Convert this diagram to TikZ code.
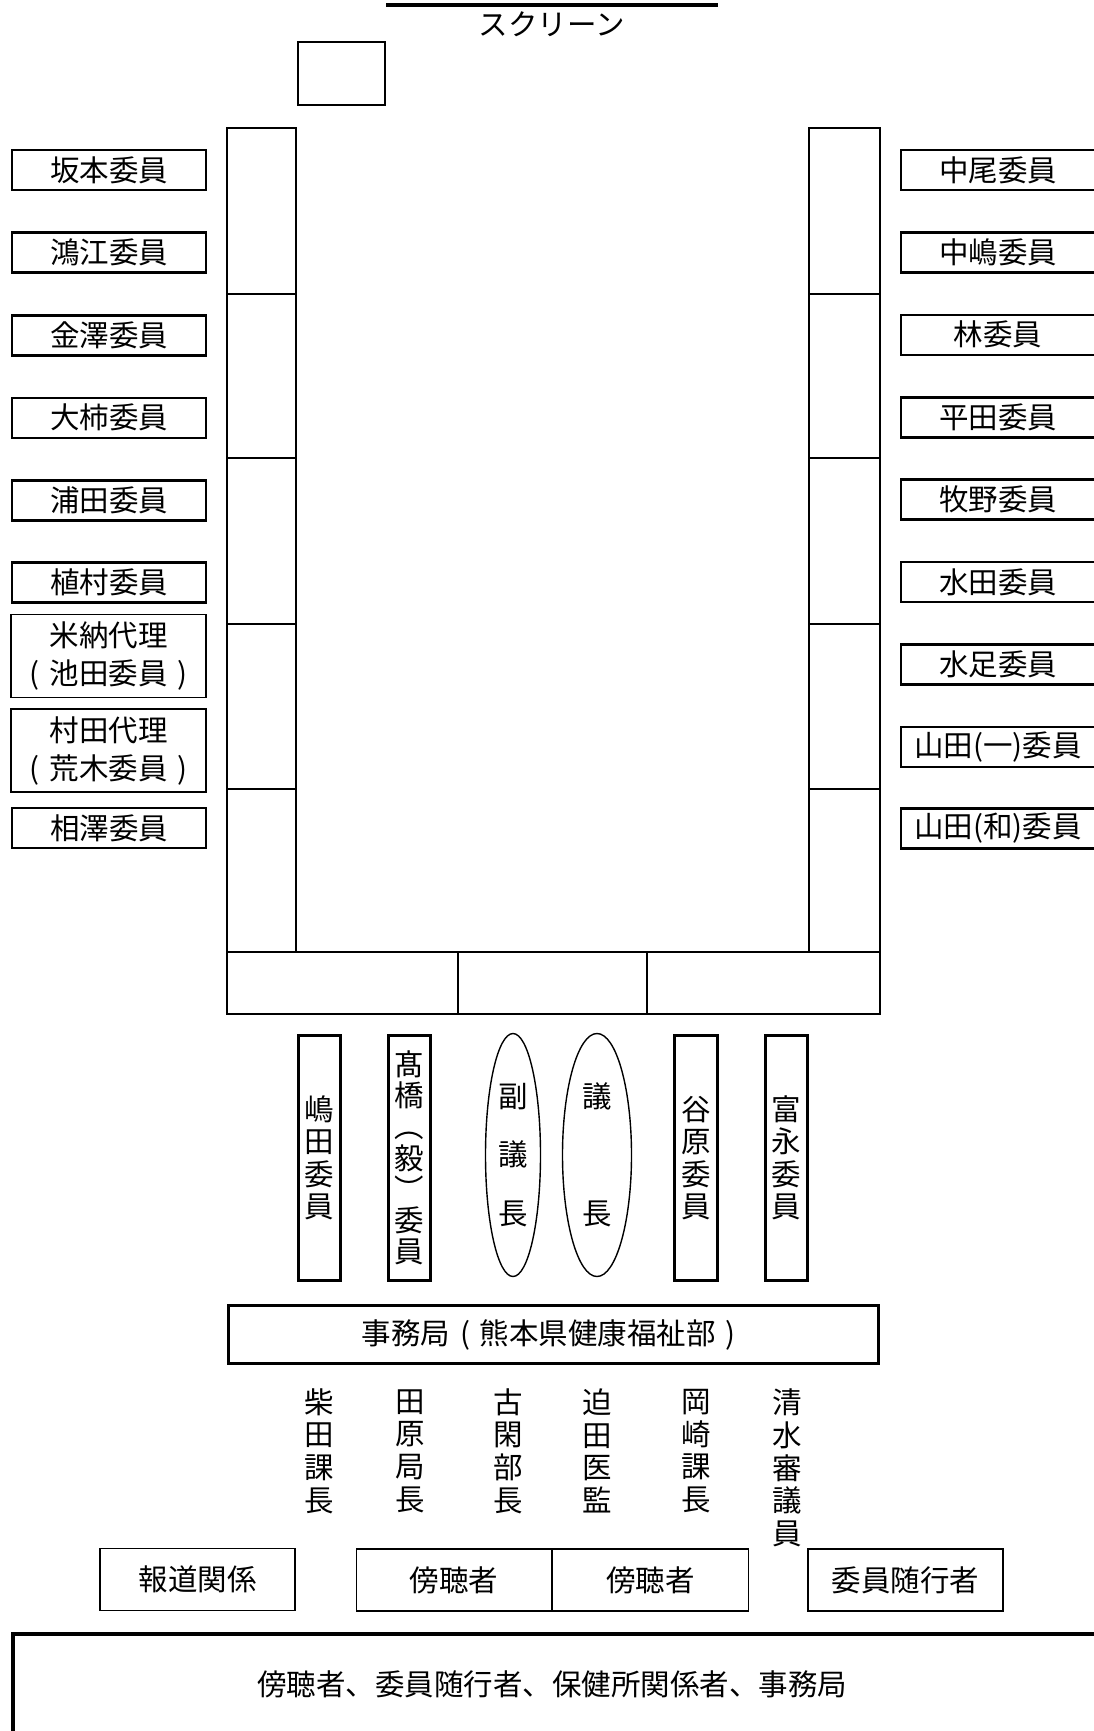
\documentclass[tikz,border=0pt]{standalone}
\usepackage{fontspec}
\setmainfont{Noto Sans CJK JP}
\usetikzlibrary{shapes.geometric}
\newcommand\jlp{\makebox[1em]{(}}
\newcommand\jrp{\makebox[1em]{)}}
\begin{document}
\begin{tikzpicture}[x=1pt,y=-1pt,
  every node/.style={font=\fontsize{29.5}{32.5}\selectfont, inner sep=0pt},
  heavybox/.style={draw, line width=2.6pt},
  member/.style={draw, line width=2.6pt, minimum width=194, minimum height=40},
  proxy/.style={draw, line width=1.5pt, minimum width=195, minimum height=83, align=center, font=\fontsize{29.5}{38}\selectfont},
  seat/.style={draw, line width=2.6pt, minimum width=42.5, minimum height=245.5, align=center},
  chair/.style={draw, ellipse, line width=1.4pt, minimum height=243, align=center, font=\fontsize{29.5}{58.5}\selectfont},
  area/.style={draw, line width=1.8pt, minimum width=195, minimum height=62},
  staff/.style={align=center, font=\fontsize{29.5}{32.7}\selectfont},
  tbl/.style={line width=2.6pt},
]
\useasboundingbox (0,0) rectangle (1093,1731);

% screen
\coordinate (scrL) at (386,5);
\coordinate (scrR) at (718,5);
\draw[line width=3.5pt] (scrL) -- (scrR);
\node (screen) at (552,24) {スクリーン};
\node[draw, line width=2pt, minimum width=87, minimum height=63] (projector) at (341,74) {};

% table
\draw[tbl] (227,128) rectangle (296,952);
\draw[tbl] (809,128) rectangle (880,952);
\foreach \y in {294,458,624,789} \draw[tbl] (227,\y) -- (296,\y) (809,\y) -- (880,\y);
\draw[tbl] (227,952) rectangle (880,1014);
\draw[tbl] (458,952) -- (458,1014) (647,952) -- (647,1014);

% left members
\node[member] (sakamoto) at (109,170) {坂本委員};
\node[member] (koue) at (109,252.6) {鴻江委員};
\node[member] (kanazawa) at (109,335.2) {金澤委員};
\node[member] (ogaki) at (109,417.8) {大柿委員};
\node[member] (urata) at (109,500.4) {浦田委員};
\node[member] (uemura) at (109,582.5) {植村委員};
\node[proxy] (yoneno) at (108.5,656) {米納代理\\\jlp 池田委員\jrp};
\node[proxy] (murata) at (108.5,750.5) {村田代理\\\jlp 荒木委員\jrp};
\node[member] (aizawa) at (109,828) {相澤委員};

% right members
\node[member] (nakao) at (998,170) {中尾委員};
\node[member] (nakashima) at (998,252.4) {中嶋委員};
\node[member] (hayashi) at (998,334.8) {林委員};
\node[member] (hirata) at (998,417.2) {平田委員};
\node[member] (makino) at (998,499.6) {牧野委員};
\node[member] (mizuta) at (998,582) {水田委員};
\node[member] (mizutari) at (998,664.4) {水足委員};
\node[member] (yamadak) at (998,746.8) {山田(一)委員};
\node[member] (yamadaw) at (998,828.5) {山田(和)委員};

% front seats
\node[seat] (shimada) at (319.5,1158) {嶋\\田\\委\\員};
\node[seat, font=\fontsize{29.5}{31.2}\selectfont] (takahashi) at (409.5,1158) {髙\\橋\\︵\\毅\\︶\\委\\員};
\node[chair, minimum width=55] (vicechair) at (513,1155) {副\\議\\長};
\node[chair, minimum width=69] (chair) at (597,1155) {議\\[58.5pt]長};
\node[seat] (tanihara) at (696,1158) {谷\\原\\委\\員};
\node[seat] (tominaga) at (786.5,1158) {富\\永\\委\\員};

% secretariat
\node[heavybox, minimum width=650.5, minimum height=58.5] (jimu) at (553.5,1334.5) {事務局\jlp 熊本県健康福祉部\jrp};

% staff
\node[staff] (shibata) at (319,1451) {柴\\田\\課\\長};
\node[staff] (tahara) at (410,1451) {田\\原\\局\\長};
\node[staff] (koga) at (508,1451) {古\\閑\\部\\長};
\node[staff] (sakoda) at (597,1451) {迫\\田\\医\\監};
\node[staff] (okazaki) at (696,1451) {岡\\崎\\課\\長};
\node[staff] (shimizu) at (787,1468) {清\\水\\審\\議\\員};

% audience areas
\node[area] (press) at (197.5,1579.5) {報道関係};
\node[area] (pub1) at (454,1580) {傍聴者};
\node[area, minimum width=196] (pub2) at (650.5,1580) {傍聴者};
\node[area] (escort) at (905.5,1580) {委員随行者};

\node[draw, line width=3.5pt, minimum width=1100, minimum height=140, anchor=north west] (gallery) at (11,1632) {};
\node (gallerytext) at (552,1684) {傍聴者、委員随行者、保健所関係者、事務局};
\end{tikzpicture}
\end{document}
